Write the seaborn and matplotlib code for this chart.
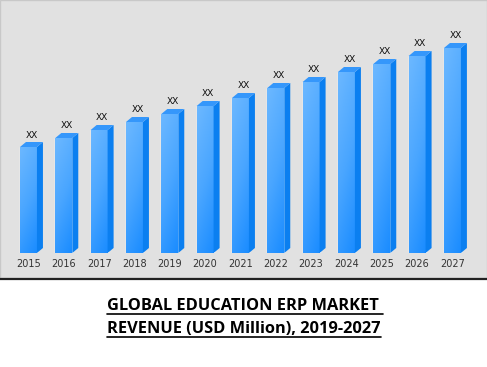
import numpy as np
import pandas as pd
import matplotlib
matplotlib.use("Agg")
import matplotlib.pyplot as plt
import seaborn as sns
from matplotlib.patches import Polygon, Rectangle
from matplotlib.lines import Line2D
from matplotlib.colors import LinearSegmentedColormap

years = ["2015", "2016", "2017", "2018", "2019", "2020", "2021",
         "2022", "2023", "2024", "2025", "2026", "2027"]
values = [10.6, 11.5, 12.3, 13.1, 13.9, 14.7, 15.5,
          16.5, 17.1, 18.1, 18.9, 19.7, 20.5]
value_labels = ["XX"] * len(years)
title_lines = ["GLOBAL EDUCATION ERP MARKET ", "REVENUE (USD Million), 2019-2027"]

df = pd.DataFrame({"year": years, "value": values})

sns.set_style("white")
W, H = 487, 367
fig = plt.figure(figsize=(W / 100, H / 100), dpi=100)
fig.patch.set_facecolor("white")

# gray panel
fig.patches.append(Rectangle((0, 1 - 278 / H), 1, 278 / H, transform=fig.transFigure,
                             facecolor="#e1e1e1", edgecolor="#c8c8c8", lw=1.0, zorder=-5))
fig.lines.append(Line2D([0, 1], [1 - 278.5 / H] * 2, transform=fig.transFigure,
                        color="#222222", lw=1.6, zorder=-4))

ax_left = 10.8 / W
ax_w = 459.3 / W
ax_bottom = (H - 253) / H
ax_h = 233 / H
ax = fig.add_axes([ax_left, ax_bottom, ax_w, ax_h])
ax.set_zorder(2)
ax.set_facecolor("none")
for s in ax.spines.values():
    s.set_visible(False)

sns.barplot(data=df, x="year", y="value", color="#3d9cff", width=0.48,
            saturation=1, ax=ax, zorder=3)
ax.set_xlim(-0.5, len(years) - 0.5)
ax.set_ylim(0, 23.3)
ax.set_yticks([])
ax.set_xlabel("")
ax.set_ylabel("")
ax.tick_params(axis="x", length=0, pad=4, labelsize=7, labelcolor="#333333")

px_x = (len(years)) / 459.3  # data units per pixel in x
px_y = 23.3 / 233            # data units per pixel in y
dx, dy = 6 * px_x, 5 * px_y

grad = np.linspace(0, 1, 64)
gx, gy = np.meshgrid(np.linspace(0, 1, 32), grad)
cmap = LinearSegmentedColormap.from_list("b", ["#1a8cff", "#4aa6ff", "#6cb8ff"])
img = 0.75 * gy + 0.25 * (1 - gx)

for p in list(ax.patches[:len(years)]):
    x0 = p.get_x()
    w = p.get_width()
    h = p.get_height()
    x1 = x0 + w
    im = ax.imshow(img, cmap=cmap, origin="lower", extent=[x0, x1, 0, h],
                   aspect="auto", zorder=4, interpolation="bilinear")
    im.set_clip_path(p)
    side = Polygon([(x1, 0), (x1, h), (x1 + dx, h + dy), (x1 + dx, dy)],
                   closed=True, facecolor="#0b7ff0", edgecolor="none", zorder=4)
    top = Polygon([(x0, h), (x1, h), (x1 + dx, h + dy), (x0 + dx, h + dy)],
                  closed=True, facecolor="#3597fb", edgecolor="none", zorder=4)
    ax.add_patch(side)
    ax.add_patch(top)
ax.set_xlim(-0.5, len(years) - 0.5)
ax.set_ylim(0, 23.3)

for i, (v, lab) in enumerate(zip(values, value_labels)):
    ax.annotate(lab, (i, v), xytext=(3, 12), textcoords="offset pixels",
                ha="center", va="center", fontsize=6.5, color="#111111",
                fontfamily="DejaVu Sans")

ys = [306, 329]
fig.canvas.draw()
renderer = fig.canvas.get_renderer()
for line, yc in zip(title_lines, ys):
    t = fig.text(107 / W, 1 - yc / H, line, ha="left", va="center",
                 fontsize=11.8, fontweight="bold", fontfamily="Open Sans", color="black")
    bb = t.get_window_extent(renderer=renderer)
    uy = 1 - (yc + 8) / H
    fig.lines.append(Line2D([bb.x0 / W, bb.x1 / W], [uy, uy], transform=fig.transFigure,
                            color="black", lw=1.2))

fig.savefig("out.png", dpi=100)
